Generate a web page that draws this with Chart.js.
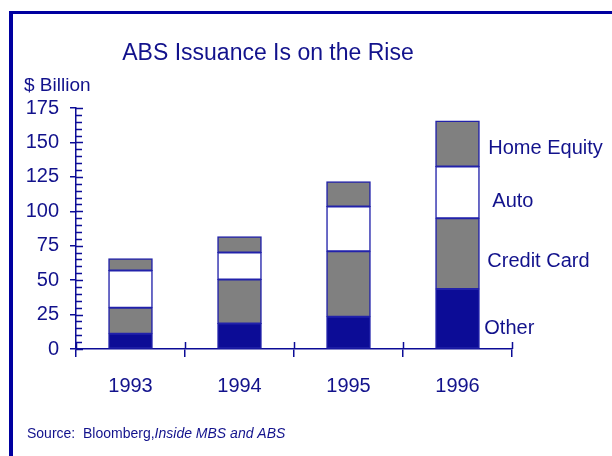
<!DOCTYPE html>
<html>
<head>
<meta charset="utf-8">
<script src="https://cdn.jsdelivr.net/npm/chart.js@4"></script>
<style>
  body { margin: 0; background: #fff; }
  canvas { display: block; }
</style>
</head>
<body>
<canvas id="chart" width="612" height="456"></canvas>
<script>
// data ($ billion)
const years = ["1993", "1994", "1995", "1996"];
const other = [11, 18.5, 23.5, 43.5];
const creditCard = [19, 32, 47.5, 51.5];
const auto = [27, 19.5, 32.5, 37.5];
const homeEquity = [8.5, 11.5, 18, 33];
const seriesNames = ["Other", "Credit Card", "Auto", "Home Equity"];
const yMin = 0, yMax = 175, yStep = 25, yMinorStep = 5;

const blue = "#0c0c96";
const textBlue = "#12128c";
const font = "'Liberation Sans', Arial, sans-serif";

// nudges for the series labels beside the last bar (dx from bar edge, dy from segment middle)
const labelNudge = [[5, 10], [8, 8], [13, 9], [9, 5]];

// frame, titles, source note, inner tick marks and series labels
const decorations = {
  id: "decorations",
  beforeDraw(chart) {
    const ctx = chart.ctx;
    ctx.save();
    ctx.fillStyle = "#fff";
    ctx.fillRect(0, 0, chart.width, chart.height);
    ctx.fillStyle = "#0000a0";
    ctx.fillRect(9, 11, 4, chart.height - 11);
    ctx.fillRect(9, 11, chart.width - 9, 3);
    ctx.restore();
  },
  afterDraw(chart) {
    const ctx = chart.ctx;
    const x = chart.scales.x, y = chart.scales.y;
    ctx.save();
    ctx.fillStyle = textBlue;
    ctx.textBaseline = "alphabetic";
    ctx.textAlign = "center";
    ctx.font = "23px " + font;
    ctx.fillText("ABS Issuance Is on the Rise", 268, 60);
    ctx.textAlign = "left";
    ctx.font = "19px " + font;
    ctx.fillText("$ Billion", 24, 91);

    ctx.font = "14px " + font;
    const s1 = "Source:  Bloomberg,";
    ctx.fillText(s1, 27, 438);
    const w1 = ctx.measureText(s1).width;
    ctx.font = "italic 14px " + font;
    ctx.fillText("Inside MBS and ABS", 27 + w1, 438);

    // tick marks on the inner side of the axes
    ctx.strokeStyle = blue;
    ctx.lineWidth = 1.5;
    ctx.beginPath();
    for (let v = yMin; v <= yMax; v += yMinorStep) {
      const py = Math.round(y.getPixelForValue(v)) + 0.5;
      const len = v % yStep === 0 ? 7 : 6;
      ctx.moveTo(x.left, py);
      ctx.lineTo(x.left + len, py);
    }
    for (let i = 0; i <= years.length; i++) {
      const px = Math.round(x.getPixelForValue(i - 0.5)) + 0.5;
      ctx.moveTo(px, y.bottom);
      ctx.lineTo(px, y.bottom - 7);
    }
    ctx.stroke();

    // series labels next to the last bar
    ctx.font = "20px " + font;
    ctx.textBaseline = "middle";
    chart.data.datasets.forEach((ds, i) => {
      const el = chart.getDatasetMeta(i).data[years.length - 1];
      const p = el.getProps(["x", "y", "base", "width"], true);
      const [dx, dy] = labelNudge[i];
      ctx.fillText(ds.label, p.x + p.width / 2 + dx, (p.y + p.base) / 2 + dy);
    });
    ctx.restore();
  },
};

function makeSet(label, data, color) {
  return {
    label: label,
    data: data,
    backgroundColor: color,
    borderColor: "#2222aa",
    borderWidth: 1.5,
    borderSkipped: false,
    inflateAmount: 0.5,
    barPercentage: 0.4,
    categoryPercentage: 1,
  };
}

new Chart(document.getElementById("chart"), {
  type: "bar",
  data: {
    labels: years,
    datasets: [
      makeSet(seriesNames[0], other, blue),
      makeSet(seriesNames[1], creditCard, "#808080"),
      makeSet(seriesNames[2], auto, "#ffffff"),
      makeSet(seriesNames[3], homeEquity, "#808080"),
    ],
  },
  options: {
    responsive: false,
    animation: false,
    devicePixelRatio: 1,
    layout: { padding: { left: 0, top: 108, right: 100, bottom: 0 } },
    plugins: {
      legend: { display: false },
      title: { display: false },
      tooltip: { enabled: false },
    },
    scales: {
      x: {
        stacked: true,
        grid: {
          drawOnChartArea: false,
          color: blue,
          lineWidth: 1.5,
          tickLength: 8,
          offset: true,
        },
        border: { color: blue, width: 1.5 },
        ticks: {
          color: textBlue,
          font: { family: font, size: 20 },
          padding: 17,
          maxRotation: 0,
        },
        afterFit(scale) { scale.height = 107; },
      },
      y: {
        stacked: true,
        min: yMin,
        max: yMax,
        grid: {
          drawOnChartArea: false,
          color: blue,
          lineWidth: 1.5,
          tickLength: 6,
        },
        border: { color: blue, width: 1.5 },
        ticks: {
          stepSize: yStep,
          color: textBlue,
          font: { family: font, size: 20 },
          padding: 11,
        },
        afterFit(scale) { scale.width = 76; },
      },
    },
  },
  plugins: [decorations],
});
</script>
</body>
</html>
